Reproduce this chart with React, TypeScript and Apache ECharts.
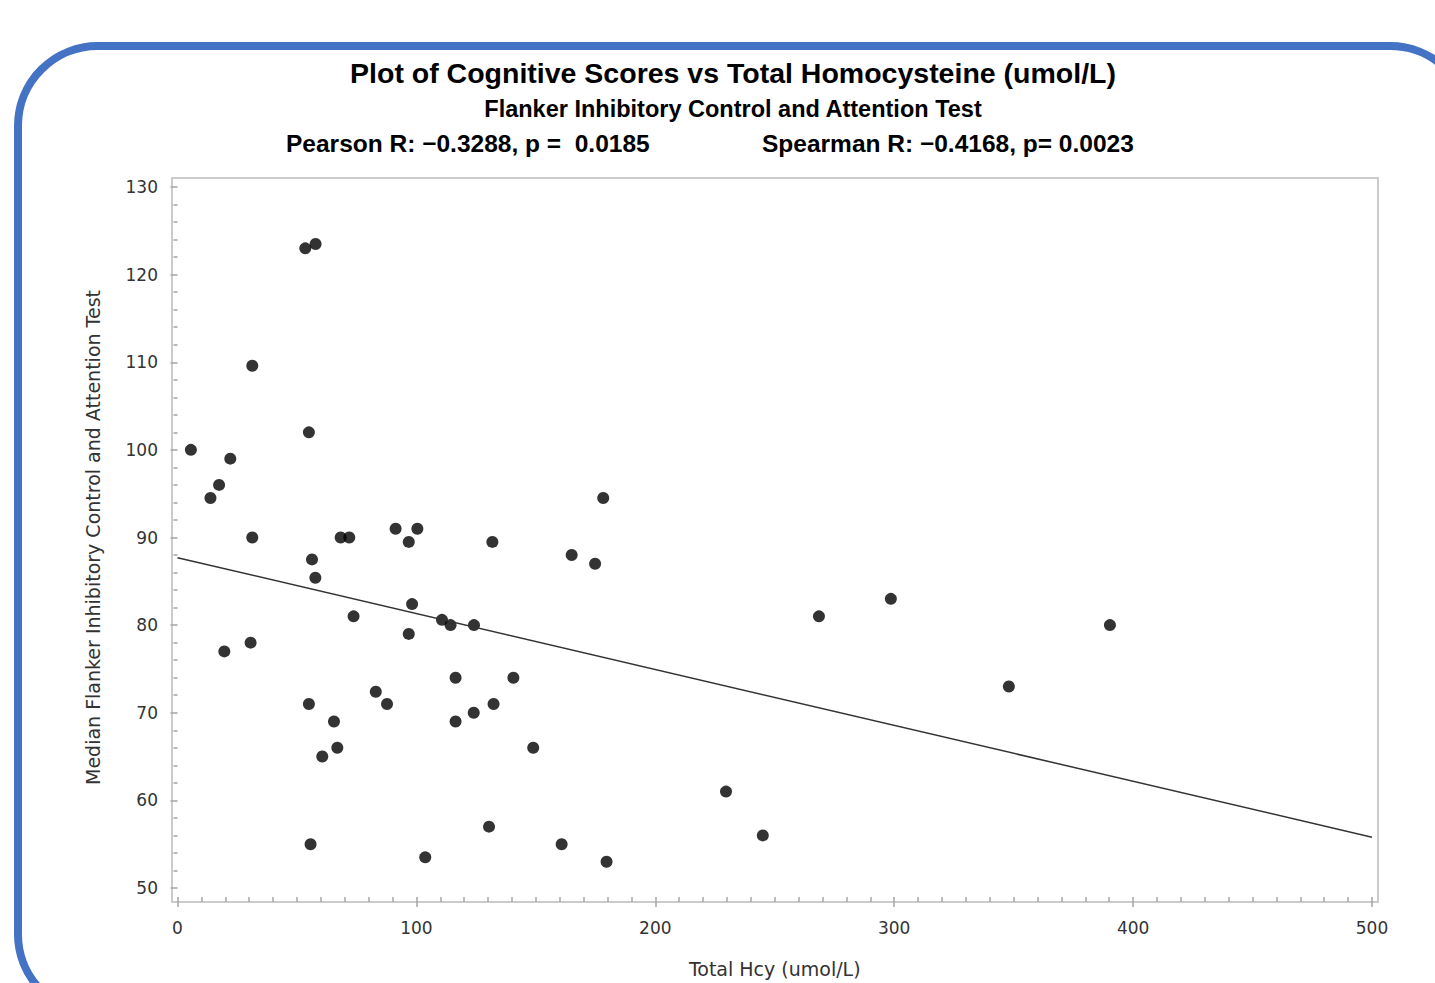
import React, { useEffect, useRef } from "react";
import * as echarts from "echarts";

const titleText = "Plot of Cognitive Scores vs Total Homocysteine (umol/L)";
const subtitleText = "Flanker Inhibitory Control and Attention Test";
const pearsonText = "Pearson R: \u22120.3288, p =  0.0185";
const spearmanText = "Spearman R: \u22120.4168, p= 0.0023";
const xAxisTitle = "Total Hcy (umol/L)";
const yAxisTitle = "Median Flanker Inhibitory Control and Attention Test";

const hcyValues = [
  5.6, 13.8, 17.4, 22.1, 19.6, 30.6, 31.3, 31.3, 53.5, 57.8,
  55.0, 56.3, 57.7, 55.0, 55.7, 60.6, 65.5, 66.9, 68.3, 71.9,
  73.7, 83.0, 87.7, 91.3, 96.8, 100.4, 98.2, 96.8, 103.7, 110.7,
  114.3, 116.4, 116.4, 124.1, 124.0, 130.4, 131.8, 132.3, 140.6, 148.9,
  160.8, 165.0, 174.8, 178.2, 179.6, 229.6, 245.0, 268.5, 298.6, 348.0,
  390.3,
];
const flankerScores = [
  100, 94.5, 96, 99, 77, 78, 90, 109.6, 123, 123.5,
  102, 87.5, 85.4, 71, 55, 65, 69, 66, 90, 90,
  81, 72.4, 71, 91, 89.5, 91, 82.4, 79, 53.5, 80.6,
  80, 74, 69, 80, 70, 57, 89.5, 71, 74, 66,
  55, 88, 87, 94.5, 53, 61, 56, 81, 83, 73,
  80,
];
const fitX = [0, 500];
const fitY = [87.7, 55.8];

const xMin = 0, xMax = 500, xStep = 100;
const yMin = 50, yMax = 130, yStep = 10;

export default function App() {
  const ref = useRef<HTMLDivElement>(null);
  useEffect(() => {
    if (!ref.current) return;
    const chart = echarts.init(ref.current, undefined, { renderer: "svg" });
    const tickColor = "#a4a4a4";
    const labelColor = "#333";
    const axisFont = "DejaVu Sans";
    const textStyle = (text: string, font: string, align: string) => ({
      text,
      font,
      fill: "#000",
      align,
      verticalAlign: "middle",
      textAlign: align,
      textVerticalAlign: "middle",
    });
    chart.setOption({
      animation: false,
      backgroundColor: "#ffffff",
      graphic: [
        {
          type: "rect",
          shape: { x: 18, y: 46, width: 1452, height: 968, r: 80 },
          style: { fill: "none", stroke: "#4472C4", lineWidth: 8 },
          z: 100,
        },
        {
          type: "text",
          x: 733,
          y: 73,
          style: textStyle(titleText, 'bold 28.5px "Liberation Sans", Arial, sans-serif', "center"),
        },
        {
          type: "text",
          x: 733,
          y: 109,
          style: textStyle(subtitleText, 'bold 23.5px "Liberation Sans", Arial, sans-serif', "center"),
        },
        {
          type: "text",
          x: 286,
          y: 143,
          style: textStyle(pearsonText, 'bold 24.5px "Liberation Sans", Arial, sans-serif', "left"),
        },
        {
          type: "text",
          x: 762,
          y: 143,
          style: textStyle(spearmanText, 'bold 24.5px "Liberation Sans", Arial, sans-serif', "left"),
        },
      ],
      grid: [
        {
          left: 172,
          top: 178,
          width: 1206,
          height: 724,
          show: true,
          borderColor: "#c9cbcd",
          borderWidth: 2,
          backgroundColor: "transparent",
        },
        { left: 177.5, top: 187, width: 1194.5, height: 706 },
      ],
      xAxis: [
        { gridIndex: 0, type: "value", show: false, min: 0, max: 1 },
        {
          gridIndex: 1,
          type: "value",
          min: xMin,
          max: xMax,
          interval: xStep,
          offset: 9,
          axisLine: { show: false },
          axisTick: { show: true, length: 10, lineStyle: { color: tickColor, width: 1.5 } },
          minorTick: { show: true, splitNumber: 10, length: 5, lineStyle: { color: tickColor, width: 1.5 } },
          splitLine: { show: false },
          axisLabel: { color: labelColor, fontFamily: axisFont, fontSize: 17, margin: 22 },
          name: xAxisTitle,
          nameLocation: "middle",
          nameGap: 62,
          nameTextStyle: { color: labelColor, fontFamily: axisFont, fontSize: 19 },
        },
      ],
      yAxis: [
        { gridIndex: 0, type: "value", show: false, min: 0, max: 1 },
        {
          gridIndex: 1,
          type: "value",
          min: yMin,
          max: yMax,
          interval: yStep,
          offset: 5.5,
          axisLine: { show: false },
          axisTick: { show: true, length: 7, lineStyle: { color: tickColor, width: 1.5 } },
          minorTick: { show: true, splitNumber: 5, length: 4, lineStyle: { color: tickColor, width: 1.5 } },
          splitLine: { show: false },
          axisLabel: { color: labelColor, fontFamily: axisFont, fontSize: 17, margin: 14 },
          name: yAxisTitle,
          nameLocation: "middle",
          nameGap: 70,
          nameTextStyle: { color: labelColor, fontFamily: axisFont, fontSize: 19 },
        },
      ],
      series: [
        {
          type: "scatter",
          xAxisIndex: 1,
          yAxisIndex: 1,
          symbol: "circle",
          symbolSize: 12,
          itemStyle: { color: "#000" },
          data: hcyValues.map((x, i) => [x, flankerScores[i]]),
        },
        {
          type: "line",
          xAxisIndex: 1,
          yAxisIndex: 1,
          symbol: "none",
          lineStyle: { color: "#333", width: 1.5 },
          data: fitX.map((x, i) => [x, fitY[i]]),
        },
      ],
    });
    return () => chart.dispose();
  }, []);
  return (
    <div
      ref={ref}
      style={{ position: "fixed", left: 0, top: 0, width: 1435, height: 983, background: "#fff" }}
    />
  );
}
